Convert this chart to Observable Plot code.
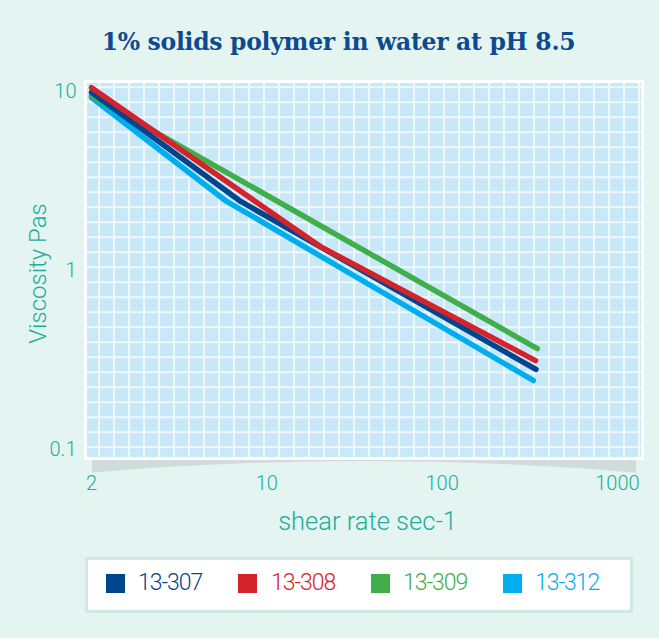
<!DOCTYPE html>
<html>
<head>
<meta charset="utf-8">
<script src="https://cdn.jsdelivr.net/npm/d3@7"></script>
<script src="https://cdn.jsdelivr.net/npm/@observablehq/plot@0.6"></script>
<style>
  html, body { margin: 0; padding: 0; background: #e4f4f0; }
  #card { position: relative; width: 659px; height: 638px; background: #e4f4f0; overflow: hidden; }
  #title { position: absolute; left: 0; width: 677px; top: 28px; text-align: center;
           font-family: "DejaVu Serif", serif; font-weight: bold; font-size: 23.5px; color: #0d4a8f; letter-spacing: -0.3px; }
  #chart { position: absolute; left: 0; top: 60px; }
  #legend { position: absolute; left: 85px; top: 557px; width: 542px; height: 50px;
            background: #ffffff; border: 3px solid #d0e9e5; }
  .sw { position: absolute; top: 14px; width: 19px; height: 19px; }
  .lab { position: absolute; top: 10px; font-family: Roboto, "Open Sans", sans-serif; font-weight: 300;
         font-size: 23px; line-height: 26px; letter-spacing: -1px; }
</style>
</head>
<body>
<div id="card">
  <div id="title">1% solids polymer in water at pH 8.5</div>
  <div id="chart"></div>
  <div id="legend"></div>
</div>
<script>
// ---- data ----
const seriesNames = ["13-307", "13-308", "13-309", "13-312"];
const seriesColors = ["#00468e", "#d4232b", "#40ae49", "#00aeef"];

const rate307 = [1, 7.1, 343];
const visc307 = [9.9, 2.43, 0.28];
const rate308 = [1, 20.2, 341];
const visc308 = [10.5, 1.36, 0.314];
const rate309 = [1, 349];
const visc309 = [9.45, 0.366];
const rate312 = [1, 5.8, 331];
const visc312 = [9.26, 2.46, 0.243];

const xTicks = [1, 10, 100, 1000];
const xTickLabels = ["2", "10", "100", "1000"];
const yTicks = [0.1, 1, 10];
const yTickLabels = ["0.1", "1", "10"];

const xLabel = "shear rate sec-1";
const yLabel = "Viscosity Pas";

// draw order: 13-312, 13-309, 13-307, 13-308 (red on top)
const order = [
  ["13-312", rate312, visc312],
  ["13-309", rate309, visc309],
  ["13-307", rate307, visc307],
  ["13-308", rate308, visc308]
];
const rows = order.flatMap(([s, r, v]) => r.map((x, i) => ({series: s, rate: x, visc: v[i]})));

const W = 659, H = 480, mL = 85, mR = 17, mT = 21, mB = 82;
const teal = "#1aae9b";
const font = "Roboto, 'Open Sans', sans-serif";

const chart = Plot.plot({
  width: W, height: H,
  marginLeft: mL, marginRight: mR, marginTop: mT, marginBottom: mB,
  style: {background: "transparent", color: teal, fontFamily: font, fontWeight: 300},
  x: {type: "log", domain: [0.924, 1390]},
  y: {type: "log", domain: [0.0891, 11.37]},
  color: {domain: seriesNames, range: seriesColors},
  marks: [
    Plot.frame({fill: "url(#gridpat)", stroke: "#ffffff", strokeWidth: 3}),
    Plot.axisX({ticks: xTicks, tickFormat: d => xTickLabels[xTicks.indexOf(d)], tickSize: 0, tickPadding: 17,
                fontSize: 20, label: null}),
    Plot.axisY({ticks: yTicks, tickFormat: d => yTickLabels[yTicks.indexOf(d)], tickSize: 0, tickPadding: 9,
                fontSize: 20, label: null}),
    Plot.line(rows, {x: "rate", y: "visc", z: "series", stroke: "series", strokeWidth: 5.5,
                     strokeLinecap: "round", strokeLinejoin: "round"})
  ]
});

// decorative grid pattern + shadow under the plot frame
const svg = d3.select(chart);
const defs = svg.insert("defs", ":first-child");
const pat = defs.append("pattern").attr("id", "gridpat").attr("patternUnits", "userSpaceOnUse")
  .attr("width", 15).attr("height", 15).attr("x", 82.5).attr("y", 25.7);
pat.append("rect").attr("width", 15).attr("height", 15).attr("fill", "#c8e8f8");
pat.append("rect").attr("width", 2).attr("height", 15).attr("fill", "#eef8fd");
pat.append("rect").attr("width", 15).attr("height", 2).attr("fill", "#eef8fd");

const fb = H - mB + 1.5, x0 = mL + 7, x1 = W - mR - 6;
svg.insert("path", "defs + *")
  .attr("d", `M${x0},${fb} L${x1},${fb} L${x1},${fb + 13} Q${(x0 + x1) / 2},${fb - 10} ${x0},${fb + 13} Z`)
  .attr("fill", "#cfdcda");

// axis titles
svg.append("text").text(yLabel)
  .attr("transform", `translate(38,${(mT + H - mB) / 2 + 4}) rotate(-90)`)
  .attr("text-anchor", "middle").attr("dominant-baseline", "central")
  .attr("font-family", font).attr("font-weight", 300).attr("font-size", 24).attr("fill", teal);
svg.append("text").text(xLabel)
  .attr("x", (mL + W - mR) / 2 + 4).attr("y", 461)
  .attr("text-anchor", "middle").attr("dominant-baseline", "central")
  .attr("font-family", font).attr("font-weight", 300).attr("font-size", 25.5).attr("fill", teal);

document.getElementById("chart").appendChild(chart);

// legend
const legend = d3.select("#legend");
const swX = [18, 150, 283, 415];
const txX = [50, 183, 315, 447];
seriesNames.forEach((s, i) => {
  legend.append("div").attr("class", "sw").style("left", swX[i] + "px").style("background", seriesColors[i]);
  legend.append("div").attr("class", "lab").style("left", txX[i] + "px").style("color", seriesColors[i]).text(s);
});
</script>
</body>
</html>
